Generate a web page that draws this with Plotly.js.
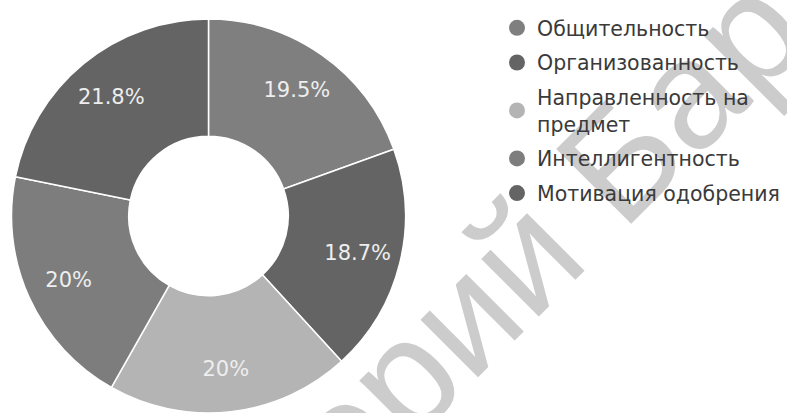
<!DOCTYPE html>
<html>
<head>
<meta charset="utf-8">
<script src="https://cdn.plot.ly/plotly-3.0.1.min.js"></script>
<style>html,body{margin:0;padding:0;background:#fff;}#chart{width:787px;height:413px;}</style>
</head>
<body>
<div id="chart"></div>
<script>
const categories = ["Общительность", "Организованность", "Направленность на<br>предмет", "Интеллигентность", "Мотивация одобрения"];
const values = [19.5, 18.7, 20, 20, 21.8];
const colors = ["#7f7f7f", "#646464", "#b4b4b4", "#7d7d7d", "#646464"];
const watermark = "Репозиторий БарГУ";

const W = 787, H = 413;
const FONT = "DejaVu Sans, Verdana, sans-serif";
const pieDomain = {x: [10 / W, 407 / W], y: [0, (H - 19) / H]};

const traces = [{
  type: "pie",
  values: values,
  labels: categories,
  marker: {colors: colors, line: {color: "#ffffff", width: 1.5}},
  sort: false,
  direction: "clockwise",
  rotation: 0,
  hole: 0.405,
  textinfo: "none",
  showlegend: false,
  hoverinfo: "none",
  domain: pieDomain
}, {
  // label ring: same data, transparent wedges, carries the percentage labels
  type: "pie",
  values: values,
  labels: categories,
  marker: {colors: values.map(function () { return "rgba(0,0,0,0)"; }), line: {width: 0}},
  sort: false,
  direction: "clockwise",
  rotation: 0,
  hole: 0.56,
  textinfo: "percent",
  textposition: "inside",
  insidetextorientation: "horizontal",
  textfont: {family: FONT, size: 21, color: "#eeeeee"},
  showlegend: false,
  hoverinfo: "none",
  domain: pieDomain
}];

categories.forEach(function (c, i) {
  traces.push({
    type: "scatter",
    mode: "markers",
    x: [null], y: [null],
    name: c,
    legendgroup: "g" + i,
    marker: {color: colors[i], size: 16, symbol: "circle"},
    hoverinfo: "none",
    showlegend: true
  });
});

const wx = 395 / W, wy = (H - 364) / H;

const layout = {
  width: W, height: H,
  margin: {l: 0, r: 0, t: 0, b: 0},
  paper_bgcolor: "#ffffff",
  plot_bgcolor: "#ffffff",
  xaxis: {visible: false},
  yaxis: {visible: false},
  showlegend: true,
  legend: {
    x: 497 / W, y: 1 - 8 / H, xanchor: "left", yanchor: "top",
    font: {family: FONT, size: 20.5, color: "#3a3a3a"},
    tracegroupgap: 5,
    bgcolor: "rgba(0,0,0,0)",
    itemclick: false, itemdoubleclick: false
  },
  shapes: [{
    type: "rect",
    xref: "paper", yref: "paper",
    x0: wx - 0.001, x1: wx + 0.001, y0: wy - 0.001, y1: wy + 0.001,
    line: {width: 0}, fillcolor: "rgba(0,0,0,0)",
    layer: "below",
    label: {
      text: watermark,
      textangle: -45,
      textposition: "middle center",
      xanchor: "center", yanchor: "middle",
      font: {family: "Liberation Sans, Arial, sans-serif", size: 154, color: "#cccccc"}
    }
  }]
};

Plotly.newPlot("chart", traces, layout, {displayModeBar: false, staticPlot: true});
</script>
</body>
</html>
